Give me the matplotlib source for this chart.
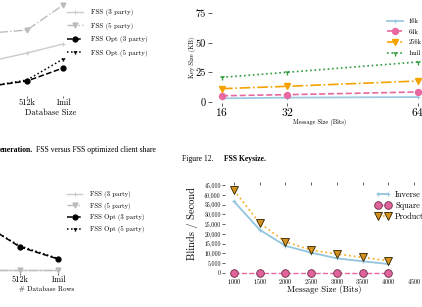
import matplotlib
matplotlib.use('Agg')
import matplotlib.pyplot as plt

plt.rcParams['font.family'] = ['cmr10', 'DejaVu Serif']
plt.rcParams['mathtext.fontset'] = 'cm'
plt.rcParams['axes.formatter.use_mathtext'] = True

W, H = 422, 307

# top left: client share generation (left part of the chart is cut off)
db_sizes = ['256k', '512k', '1mil']
gen_fss3 = [37, 45, 54]
gen_fss5 = [65, 68, 93]
gen_opt3 = [12, 17, 30]
gen_opt5 = [12, 18, 39]

# top right: FSS key size (KB)
msg_bits = [16, 32, 64]
key_16k = [3.1, 3.7, 4.2]
key_64k = [5.3, 6.2, 8.5]
key_256k = [11.3, 13.3, 17.8]
key_1mil = [20.9, 25.2, 33.9]

# bottom left: by number of database rows
db_rows = ['256k', '512k', '1mil']
row_fss3 = [5, 5, 5]
row_fss5 = [5, 5, 5]
row_opt3 = [52, 28, 16]
row_opt5 = [51, 29, 16.5]

# bottom right: blinds per second
blind_bits = [1000, 1500, 2000, 2500, 3000, 3500, 4000]
inverse = [36600, 22100, 13900, 10400, 7500, 6000, 4600]
square = [0, 0, 0, 0, 0, 0, 0]
product = [42300, 25500, 16000, 11700, 9700, 8000, 6300]

fig = plt.figure(figsize=(W / 100, H / 100), dpi=100)


def box(x0, y0, x1, y1):
    # axes placed in pixel coordinates of the page crop
    return fig.add_axes([x0 / W, 1 - y1 / H, (x1 - x0) / W, (y1 - y0) / H])


def ptext(x, y, s, **kw):
    kw.setdefault('ha', 'center')
    kw.setdefault('va', 'center')
    return fig.text(x / W, 1 - y / H, s, **kw)


def clean(ax):
    for sp in ax.spines.values():
        sp.set_visible(False)
    ax.set_facecolor('none')


def legend_at(ax, x, y, fs, **kw):
    return ax.legend(loc='upper left', bbox_to_anchor=(x / W, 1 - y / H),
                     bbox_transform=fig.transFigure, frameon=False,
                     borderpad=0, borderaxespad=0,
                     prop={'family': ['cmr10', 'DejaVu Serif'], 'size': fs}, **kw)


def fss_lines(ax, xs, f3, f5, o3, o5):
    ax.plot(xs, f3, color='#cbcbcb', lw=1, marker='+', ms=3, mew=0.8, label='FSS (3 party)')
    ax.plot(xs, f5, color='#bcbcbc', lw=1, ls='-.', marker='v', ms=3.5, label='FSS (5 party)')
    ax.plot(xs, o3, color='black', lw=1.1, ls='--', marker='o', ms=3.5, label='FSS Opt (3 party)')
    ax.plot(xs, o5, color='black', lw=1.1, ls=':', marker='1', ms=3, label='FSS Opt (5 party)')


def caption(x, y, bold, rest, size):
    # bold lead-in followed by regular text
    t = ptext(x, y, bold, ha='left', family='Liberation Serif', weight='bold', size=size)
    r = fig.canvas.get_renderer()
    x_end = t.get_window_extent(renderer=r).x1
    ptext(x_end + 2.5, y, rest, ha='left', family='Liberation Serif', size=size)


# ---- top left
ax1 = box(-40, 0, 66, 96)
clean(ax1)
xs = list(range(len(db_sizes)))
fss_lines(ax1, xs, gen_fss3, gen_fss5, gen_opt3, gen_opt5)
ax1.set_xlim(-0.86, 2.08)
ax1.set_ylim(2, 98)
ax1.set_xticks(xs[1:])
ax1.set_xticklabels(db_sizes[1:])
ax1.set_yticks([])
ax1.tick_params(axis='x', length=1.5, width=0.6, color='#444444', labelsize=6, pad=0.5)
legend_at(ax1, 67, 9, 5, handlelength=2.3, handletextpad=1.1, labelspacing=0.95)
ptext(51, 113, 'Database Size', size=6)

# ---- top right
ax2 = box(212, 8, 424, 103)
clean(ax2)
ax2.plot(msg_bits, key_16k, color='#9ecae1', lw=1.3, marker='+', ms=3, mew=0.8, label='16k')
ax2.plot(msg_bits, key_64k, color='#e8699f', lw=1.2, ls='--', marker='o', ms=4.3, label='64k')
ax2.plot(msg_bits, key_256k, color='#f5a300', lw=1.2, ls='-.', marker='v', ms=4.3, label='256k')
ax2.plot(msg_bits, key_1mil, color='#2f9a3c', lw=1.2, ls=':', marker='1', ms=4, label='1mil')
ax2.set_xlim(13.55, 65.51)
ax2.set_ylim(-0.85, 79.66)
ax2.set_xticks(msg_bits)
ax2.set_yticks([0, 25, 50, 75])
ax2.set_yticklabels(['0', '25', '50', '75'])
ax2.tick_params(axis='y', length=3, width=0.6, color='#444444', labelsize=7.5, pad=1.5)
ax2.tick_params(axis='x', length=2, width=0.6, color='#444444', labelsize=8.3, pad=0)
legend_at(ax2, 387, 18, 4.7, handlelength=2.5, handletextpad=0.8, labelspacing=0.75)
ptext(192, 57, 'Key Size (KB)', size=4.7, rotation=90)
ptext(320, 122, 'Message Size (Bits)', size=4.5)

# ---- captions
caption(0, 150, 'eneration.', 'FSS versus FSS optimized client share', 5.6)
ptext(182, 159, 'Figure 12.', ha='left', family='Liberation Serif', size=5.5)
ptext(224, 159, 'FSS Keysize.', ha='left', family='Liberation Serif', weight='bold', size=5.5)

# ---- bottom left
ax3 = box(-40, 180, 62, 273)
clean(ax3)
xs = list(range(len(db_rows)))
fss_lines(ax3, xs, row_fss3, row_fss5, row_opt3, row_opt5)
ax3.set_xlim(-0.579, 2.105)
ax3.set_ylim(2, 95)
ax3.set_xticks(xs[1:])
ax3.set_xticklabels(db_rows[1:])
ax3.set_yticks([])
ax3.tick_params(axis='x', length=1.5, width=0.6, color='#444444', labelsize=6, pad=0.5)
legend_at(ax3, 67, 191, 4.8, handlelength=2.3, handletextpad=1.1, labelspacing=0.7)
ptext(47, 289, '# Database Rows', size=5)

# ---- bottom right
ax4 = box(225, 185, 424, 276)
clean(ax4)
ax4.plot(blind_bits, inverse, color='#92c5de', lw=1.3, marker='+', ms=2.5, mew=0.8, label='Inverse')
ax4.plot(blind_bits, square, color='#e8699f', lw=1, ls='--', marker='o', ms=5.5,
         mfc='#e0639b', mec='#6b2a45', mew=0.6, label='Square', clip_on=False)
ax4.plot(blind_bits, product, color='#f5b031', lw=1.3, ls=':', marker='v', ms=5.5,
         mfc='#d4911c', mec='#2e2200', mew=0.6, label='Product', clip_on=False)
ax4.set_xlim(825, 4696)
ax4.set_ylim(-1534, 45000)
ax4.set_xticks(list(range(1000, 4501, 500)))
yt = list(range(0, 45001, 5000))
ax4.set_yticks(yt)
ax4.set_yticklabels([f'{v:,}' for v in yt])
ax4.tick_params(axis='x', top=True, bottom=False, labelbottom=True, length=2,
                width=0.6, color='#444444', labelsize=4.5, pad=-1)
ax4.tick_params(axis='y', length=2, width=0.6, color='#444444', labelsize=4.2, pad=1)
legend_at(ax4, 375, 191, 6, numpoints=2, handlelength=1.9, handletextpad=0.5, labelspacing=0.3)
ptext(193, 224, 'Blinds / Second', size=7.5, rotation=90)
ptext(324, 290, 'Message Size (Bits)', size=6.3)

fig.savefig('out.png', dpi=100)
